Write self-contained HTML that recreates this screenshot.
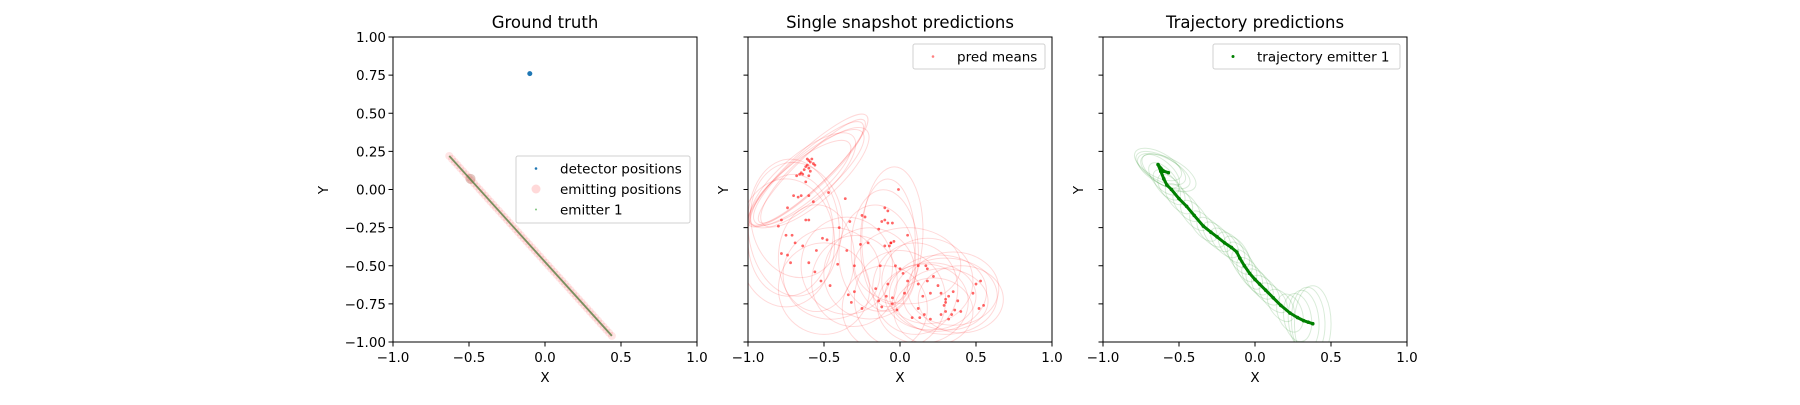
<!DOCTYPE html>
<html><head><meta charset="utf-8"><style>
html,body{margin:0;padding:0;background:#fff;}
svg text{font-family:"DejaVu Sans","Liberation Sans",sans-serif;fill:#000;}
</style></head><body>
<svg id="fig" width="1800" height="400" viewBox="0 0 1800 400" xmlns="http://www.w3.org/2000/svg"></svg>
<script>
// ---- data ----
const axisTicksX = [-1.0, -0.5, 0.0, 0.5, 1.0];
const axisTickLabelsX = ["\u22121.0", "\u22120.5", "0.0", "0.5", "1.0"];
const axisTicksY = [1.0, 0.75, 0.5, 0.25, 0.0, -0.25, -0.5, -0.75, -1.0];
const axisTickLabelsY = ["1.00", "0.75", "0.50", "0.25", "0.00", "\u22120.25", "\u22120.50", "\u22120.75", "\u22121.00"];
const titles = ["Ground truth", "Single snapshot predictions", "Trajectory predictions"];

const detectorX = [-0.1];
const detectorY = [0.76];
const emitStart = [-0.63, 0.22];
const emitEnd = [0.44, -0.96];
const emitCount = 60;

const predX = [-0.6,-0.59,-0.61,-0.58,-0.62,-0.6,-0.57,-0.63,-0.59,-0.61,-0.64,-0.66,-0.68,-0.65,-0.56,-0.6,-0.62,-0.67,-0.65,-0.7,-0.6,-0.57,-0.74,-0.78,-0.8,-0.75,-0.71,-0.69,-0.78,-0.74,-0.72,-0.64,-0.62,-0.6,-0.55,-0.51,-0.48,-0.4,-0.36,-0.47,-0.56,-0.6,-0.52,-0.46,-0.41,-0.33,-0.25,-0.23,-0.35,-0.30,-0.21,-0.26,-0.3,-0.34,-0.32,-0.25,-0.16,-0.14,-0.12,-0.09,-0.08,-0.05,-0.05,-0.02,-0.13,-0.1,-0.06,-0.08,-0.05,-0.1,-0.12,-0.14,-0.1,-0.08,-0.01,0.05,0.12,0.17,0.18,0.12,0.18,0.22,0.25,0.15,0.2,0.27,0.3,0.32,0.35,0.38,0.3,0.32,0.27,0.2,0.16,0.12,0.13,0.05,0.03,0.08,0.34,0.48,0.5,0.53,0.52,0.55,0.02,0.0,-0.03,0.36,0.4,-0.06,-0.04,-0.07,0.3,0.29];
const predY = [0.19,0.18,0.16,0.2,0.15,0.14,0.17,0.13,0.12,0.2,0.1,0.1,0.09,0.11,0.16,0.09,0.05,-0.05,-0.04,-0.04,-0.04,-0.08,-0.12,-0.2,-0.24,-0.3,-0.3,-0.35,-0.42,-0.43,-0.48,-0.37,-0.2,-0.2,-0.4,-0.32,-0.33,-0.25,-0.06,-0.02,-0.54,-0.48,-0.6,-0.63,-0.49,-0.21,-0.17,-0.18,-0.40,-0.50,-0.35,-0.36,-0.67,-0.69,-0.74,-0.78,-0.65,-0.73,-0.77,-0.7,-0.62,-0.71,-0.75,-0.79,-0.5,-0.37,-0.35,-0.22,-0.22,-0.2,-0.21,-0.26,-0.12,-0.14,0.0,-0.3,-0.5,-0.5,-0.52,-0.62,-0.6,-0.57,-0.63,-0.7,-0.68,-0.68,-0.72,-0.7,-0.67,-0.73,-0.8,-0.85,-0.82,-0.85,-0.82,-0.78,-0.84,-0.6,-0.68,-0.84,-0.82,-0.68,-0.62,-0.6,-0.78,-0.76,-0.55,-0.52,-0.5,-0.79,-0.8,-0.35,-0.34,-0.37,-0.74,-0.76];

// ellipses: center x, center y, semi-axis a, semi-axis b, angle (deg)
const predEllX = [-0.62,-0.6,-0.58,-0.64,-0.6,-0.66,-0.56,-0.7,-0.72,-0.75,-0.68,-0.55,-0.08,-0.05,-0.1,-0.15,-0.2,-0.3,-0.35,0.2,0.25,0.3,0.35,0.15,0.22,0.3,0.1,0.0,-0.1,-0.45,-0.5,0.05,0.4,0.18];
const predEllY = [0.1,0.08,0.12,0.06,0.13,0.04,0.08,-0.25,-0.3,-0.35,-0.2,-0.45,-0.35,-0.3,-0.4,-0.45,-0.55,-0.6,-0.5,-0.7,-0.68,-0.72,-0.65,-0.75,-0.8,-0.7,-0.65,-0.72,-0.78,-0.55,-0.65,-0.5,-0.72,-0.6];
const predEllA = [0.5,0.46,0.48,0.44,0.52,0.42,0.46,0.3,0.28,0.32,0.3,0.25,0.42,0.45,0.4,0.35,0.3,0.3,0.32,0.3,0.32,0.28,0.3,0.3,0.26,0.34,0.28,0.3,0.28,0.32,0.3,0.35,0.28,0.3];
const predEllB = [0.12,0.14,0.1,0.16,0.12,0.13,0.15,0.45,0.4,0.42,0.38,0.35,0.18,0.2,0.22,0.25,0.3,0.28,0.3,0.22,0.25,0.2,0.24,0.26,0.22,0.25,0.3,0.32,0.28,0.3,0.3,0.25,0.22,0.28];
const predEllAng = [42,40,44,41,43,39,42,5,-5,0,10,0,90,88,92,95,85,80,90,0,5,-5,0,10,0,0,0,5,0,10,0,0,0,0];

const trajX = [-0.57,-0.6,-0.62,-0.638,-0.62,-0.6,-0.58,-0.55,-0.5,-0.45,-0.4,-0.34,-0.29,-0.25,-0.2,-0.155,-0.12,-0.1,-0.07,-0.035,0.0,0.03,0.07,0.12,0.17,0.23,0.28,0.32,0.35,0.38];
const trajY = [0.11,0.12,0.14,0.164,0.12,0.07,0.03,0.0,-0.06,-0.11,-0.17,-0.24,-0.28,-0.31,-0.35,-0.38,-0.41,-0.45,-0.5,-0.55,-0.59,-0.62,-0.66,-0.71,-0.76,-0.81,-0.84,-0.86,-0.87,-0.88];
const trajEllA = [0.2,0.19,0.18,0.17,0.15,0.13,0.12,0.12,0.12,0.12,0.12,0.12,0.12,0.12,0.12,0.12,0.12,0.12,0.12,0.12,0.12,0.12,0.12,0.12,0.12,0.13,0.16,0.2,0.23,0.25];
const trajEllB = [0.09,0.085,0.08,0.08,0.07,0.065,0.06,0.06,0.06,0.06,0.06,0.06,0.06,0.06,0.06,0.06,0.06,0.06,0.06,0.06,0.06,0.06,0.06,0.06,0.07,0.08,0.09,0.1,0.11,0.12];
const trajEllAng = [-28,-28,-28,-28,-40,-48,-50,-50,-50,-50,-50,-50,-48,-48,-48,-52,-55,-57,-57,-55,-52,-50,-48,-48,-55,-70,-80,-85,-88,-90];

// ---- layout ----
const NS = "http://www.w3.org/2000/svg";
const svg = document.getElementById("fig");
const panels = [{L:393,R:697},{L:748,R:1052},{L:1103,R:1407}];
const TOP = 37, BOT = 342;
function mk(tag, attrs, parent){ const e=document.createElementNS(NS,tag); for(const k in attrs) e.setAttribute(k,attrs[k]); (parent||svg).appendChild(e); return e; }
function sx(p,v){ return p.L + (v+1)/2*(p.R-p.L); }
function sy(v){ return BOT - (v+1)/2*(BOT-TOP); }
const ux = (p)=> (p.R-p.L)/2, uy = (BOT-TOP)/2;

const defs = mk("defs",{});
panels.forEach((p,i)=>{
  const cp = mk("clipPath",{id:"clip"+i},defs);
  mk("rect",{x:p.L,y:TOP,width:p.R-p.L,height:BOT-TOP},cp);
});

panels.forEach((p,i)=>{
  const g = mk("g",{});
  
  
  const t = mk("text",{x:(p.L+p.R)/2,y:28,"text-anchor":"middle","font-size":"16.5"},g);
  t.textContent = titles[i];
  
  
  axisTicksX.forEach((v,k)=>{
    const x = sx(p,v);
    mk("line",{x1:x,x2:x,y1:BOT,y2:BOT+4.5,stroke:"#000","stroke-width":1},g);
    const tl = mk("text",{x:x,y:BOT+20,"text-anchor":"middle","font-size":"13.5"},g);
    tl.textContent = axisTickLabelsX[k];
    
    
  });
  axisTicksY.forEach((v,k)=>{
    const y = sy(v);
    mk("line",{x1:p.L-4.5,x2:p.L,y1:y,y2:y,stroke:"#000","stroke-width":1},g);
    if(i===0){
      const tl = mk("text",{x:p.L-7,y:y+5,"text-anchor":"end","font-size":"13.5"},g);
      tl.textContent = axisTickLabelsY[k];
      
      
    }
  });
  const xl = mk("text",{x:(p.L+p.R)/2,y:382,"text-anchor":"middle","font-size":"13.5"},g);
  xl.textContent = "X";
  
  
  const yx = [328,728,1083][i];
  const yl = mk("text",{x:yx,y:190,"text-anchor":"middle","font-size":"13.5",transform:`rotate(-90 ${yx} 190)`},g);
  yl.textContent = "Y";
  
  
});

// panel 1
(function(){
  const p = panels[0];
  const g = mk("g",{"clip-path":"url(#clip0)"});
  
  
  for(let k=0;k<emitCount;k++){
    const f=k/(emitCount-1);
    const vx=emitStart[0]+(emitEnd[0]-emitStart[0])*f, vy=emitStart[1]+(emitEnd[1]-emitStart[1])*f;
    const c = mk("circle",{cx:sx(p,vx),cy:sy(vy),r:4,fill:"#ff0000","fill-opacity":0.1},g);
    
    
  }
  mk("circle",{cx:sx(p,-0.49),cy:sy(0.07),r:5,fill:"#b06050","fill-opacity":0.35},g);
  const ln = mk("line",{x1:sx(p,emitStart[0]),y1:sy(emitStart[1]),x2:sx(p,emitEnd[0]),y2:sy(emitEnd[1]),stroke:"#4a7a3a","stroke-width":1.8,"stroke-opacity":0.75},g);
  
  
  detectorX.forEach((v,k)=>{
    const c = mk("circle",{cx:sx(p,v),cy:sy(detectorY[k]),r:2.5,fill:"#1f77b4"},g);
    
    
  });
})();

// panel 2
(function(){
  const p = panels[1];
  const g = mk("g",{"clip-path":"url(#clip1)"});
  
  
  predEllX.forEach((v,k)=>{
    const cx=sx(p,v), cy=sy(predEllY[k]);
    const e = mk("ellipse",{cx:cx,cy:cy,rx:predEllA[k]*ux(p),ry:predEllB[k]*uy,fill:"none",stroke:"#ff0000","stroke-opacity":0.15,"stroke-width":1,transform:`rotate(${-predEllAng[k]} ${cx} ${cy})`},g);
    
    
  });
  predX.forEach((v,k)=>{
    const c = mk("circle",{cx:sx(p,v),cy:sy(predY[k]),r:1.4,fill:"#ff0000","fill-opacity":0.6},g);
    
    
  });
})();

// panel 3
(function(){
  const p = panels[2];
  const g = mk("g",{"clip-path":"url(#clip2)"});
  
  
  trajX.forEach((v,k)=>{
    const cx=sx(p,v), cy=sy(trajY[k]);
    const e = mk("ellipse",{cx:cx,cy:cy,rx:trajEllA[k]*ux(p),ry:trajEllB[k]*uy,fill:"none",stroke:"#008000","stroke-opacity":0.15,"stroke-width":1,transform:`rotate(${-trajEllAng[k]} ${cx} ${cy})`},g);
    
    
  });
  const pts = trajX.map((v,k)=>sx(p,v)+","+sy(trajY[k])).join(" ");
  const pl = mk("polyline",{points:pts,fill:"none",stroke:"#008000","stroke-width":3,"stroke-linejoin":"round","stroke-linecap":"round"},g);
  
  
  trajX.forEach((v,k)=>{
    const c = mk("circle",{cx:sx(p,v),cy:sy(trajY[k]),r:1.8,fill:"#008000"},g);
    
    
  });
})();

// frames
panels.forEach((p)=>{
  const r = mk("rect",{x:p.L,y:TOP,width:p.R-p.L,height:BOT-TOP,fill:"none",stroke:"#000","stroke-width":1});
  
  
});

// legends
function legend(x,y,w,h,items){
  const g = mk("g",{});
  
  
  mk("rect",{x:x,y:y,width:w,height:h,rx:2,fill:"#fff","fill-opacity":0.8,stroke:"#d0d0d0","stroke-width":1},g);
  items.forEach((it,k)=>{
    const cy = y+12.5+k*20.5;
    mk("circle",{cx:x+20,cy:cy,r:it.r,fill:it.c,"fill-opacity":it.o},g);
    const t = mk("text",{x:x+44,y:cy+5,"font-size":"13.5"},g);
    t.textContent = it.t;
    
    
  });
}
legend(516,156,174,67,[{t:"detector positions",c:"#1f77b4",r:1.3,o:1},{t:"emitting positions",c:"#ff0000",r:4.5,o:0.15},{t:"emitter 1",c:"#2ca02c",r:1,o:0.6}]);
legend(913,44,132,25,[{t:"pred means",c:"#ff0000",r:1.3,o:0.5}]);
legend(1213,44,187,25,[{t:"trajectory emitter 1",c:"#008000",r:1.5,o:1}]);
</script>
</body></html>
